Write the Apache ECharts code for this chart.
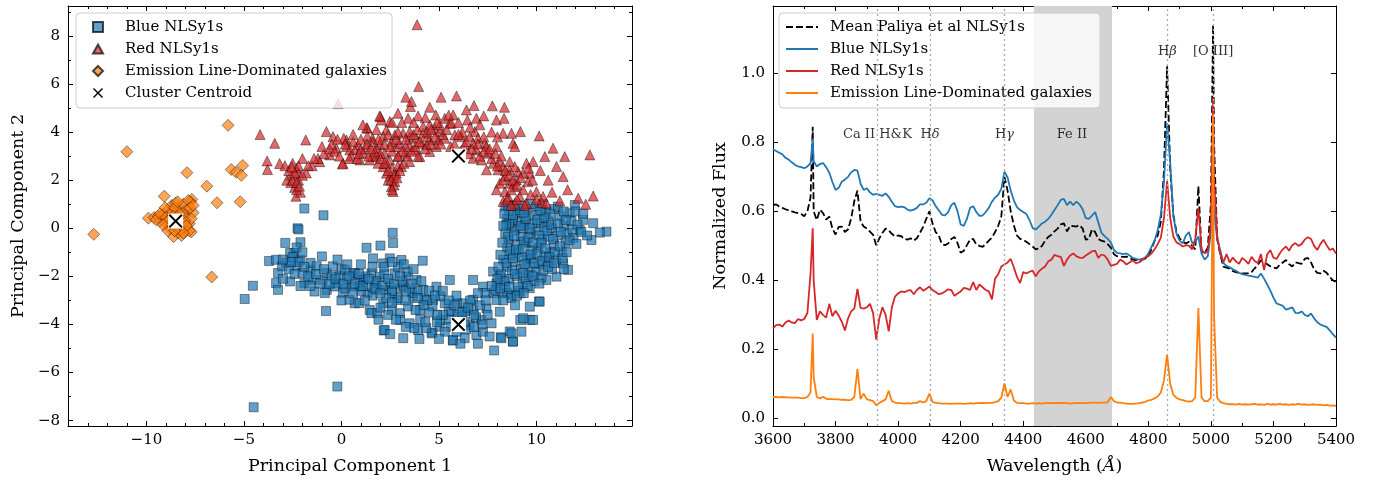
<!DOCTYPE html>
<html><head><meta charset="utf-8">
<script src="https://cdn.jsdelivr.net/npm/echarts@6/dist/echarts.min.js"></script>
<style>
html,body{margin:0;padding:0;background:#fff;}
#wrap{position:relative;width:1382px;height:484px;}
#left{position:absolute;left:0;top:0;width:691px;height:484px;}
#right{position:absolute;left:691px;top:0;width:691px;height:484px;}
</style>
</head><body><div id="wrap"><div id="left"></div><div id="right"></div></div>
<script>
// ---------------- LEFT PANEL DATA (PCA scatter) ----------------
const bluePts = [
[-4.5,-7.44],[-0.21,-6.58],[-4.96,-2.94],[-4.54,-2.39],[-3.71,-1.36],[-1.9,0.82],[-0.92,0.54],[-2.25,0.0],[-2.2,-0.05],[-2.88,-0.61],[-2.1,-0.58],[-0.79,-3.44],[2.63,-0.19],[2.65,-0.61],[1.29,-0.81],[2.0,-0.72],[4.17,-1.35],[-1.0,-1.17],[7.83,-5.08],[8.79,-4.71],[10.13,-3.04],[9.67,-3.81],[9.17,-3.81],[8.63,-4.29],[8.17,-4.53],[3.17,-4.57],[2.17,-4.25],[4.67,-4.33],[5.71,-4.67],
[3.08,-1.32],[0.0,-1.7],[-0.26,-2.29],[0.6,-1.87],[1.11,-2.15],[1.62,-1.25],[2.48,-1.25],[2.14,-1.46],[1.54,-1.87],[1.97,-2.01],[2.74,-1.87],[3.33,-2.01],[3.85,-2.15],[2.48,-2.29],[3.0,-2.49],[1.79,-2.56],[0.94,-2.43],[0.68,-3.12],[1.45,-3.4],[2.14,-3.12],[2.82,-2.98],[3.67,-2.84],[4.19,-2.56],[4.87,-2.43],[5.56,-2.15],[4.7,-2.98],[5.3,-3.12],[4.02,-3.4],[3.5,-3.95],[3.0,-3.53],[2.22,-4.23],[3.93,-4.23],[4.62,-4.37],[5.04,-4.09],[5.73,-4.64],[6.32,-4.57],[6.92,-4.44],[6.58,-4.02],[7.26,-4.3],[8.2,-4.57],[8.72,-4.37],[8.8,-4.71],[9.23,-4.3],[9.32,-3.74],[9.83,-3.81],[9.66,-3.26],[10.17,-3.05],[7.18,-3.81],[7.7,-3.95],[8.12,-3.47],[7.44,-3.33],[6.75,-3.4],[6.24,-3.12],[6.15,-3.67],[5.64,-3.47],[6.75,-2.15],[7.26,-2.43],[7.78,-2.7],[7.95,-2.29],[7.78,-1.8],[8.12,-2.01],[7.95,-2.98],[8.29,-2.7],
[13.59,-0.14],[12.91,0.21],[13.25,-0.18],[12.82,-0.49],[12.22,-0.07],[11.97,0.97],[11.71,0.62],[12.39,0.35],[11.62,-1.73],[11.37,-1.46],[11.03,-2.01],[10.51,-2.15],[9.66,-2.49],[8.72,-2.77],[9.15,-2.7],
[8.4,0.9],[8.6,0.7],[8.5,0.4],[8.7,0.1],[8.4,-0.2],[8.6,-0.5],[8.5,-0.8],[8.7,-1.1],[8.3,-1.3],[8.5,-1.6],[8.2,-1.9],[8.6,-2.1],[8.4,-2.4],[8.9,0.95],[9.0,0.6],[9.1,0.3],[8.9,-0.1],[9.2,-0.35],[9.0,-0.7],[9.1,-1.0],[8.9,-1.4],[9.2,-1.7],[9.0,-2.0],[9.3,-2.3],[9.5,0.8],[9.6,0.5],[9.4,0.15],[9.7,-0.2],[9.5,-0.6],[9.8,-0.9],[9.5,-1.3],[9.7,-1.6],[9.6,-1.95],[9.9,-2.2],[10.0,0.9],[10.1,0.55],[10.2,0.2],[10.0,-0.1],[10.3,-0.45],[10.1,-0.8],[10.4,-1.15],[10.2,-1.5],[10.0,-1.8],[10.5,0.7],[10.6,0.3],[10.8,0.0],[10.6,-0.35],[10.9,-0.7],[10.7,-1.0],[11.0,-1.3],[10.8,-1.7],[11.2,0.5],[11.4,0.1],[11.1,-0.3],[11.5,-0.6],[11.3,-1.0],[11.6,-0.2],[11.8,0.3],[11.9,-0.4],[8.8,0.35],[9.3,0.0],[9.8,0.2],[10.4,0.05],[9.25,-1.2],[9.75,-1.25],[10.55,-1.4],[8.75,-1.75],[9.45,-2.1],[10.25,-2.05],[8.35,0.6],[8.5,-2.7],[8.7,-2.9],[9.1,-2.6],[8.3,-3.0],[8.9,-3.2],[8.6,0.2],[12.6,-0.3],[11.4,-1.7],[10.9,0.8],[11.1,0.9],[12.0,0.7],[10.3,1.0],[9.7,1.0],[10.7,0.6],
[-3.35,-1.31],[-2.83,-1.44],[-3.25,-1.86],[-3.35,-2.28],[-2.63,-2.21],[-3.25,-2.56],[-2.42,-1.03],[-2.1,-1.31],[-2.31,-1.58],[-2.0,-1.86],[-1.58,-1.72],[-1.48,-2.14],[-1.9,-2.28],[-0.96,-2.14],[-0.75,-2.56],[-1.38,-2.63],[-0.85,-2.69],[-0.33,-2.42],[-0.13,-2.0],[0.08,-2.69],[0.5,-2.42],[0.4,-2.97],[0.92,-3.11],[0.92,-2.14],[1.33,-2.69],[1.54,-3.53],[1.85,-3.53],[2.58,-3.39],[2.9,-2.9],[3.42,-3.25],[4.04,-3.81],[4.35,-4.15],[3.73,-4.15],[3.0,-3.81],[5.08,-3.81],[5.5,-3.46],[6.33,-3.46],[6.75,-2.97],[7.38,-2.69],[7.9,-2.56],[-3.04,-1.58],[-2.63,-1.03],[-1.58,-1.44],[-1.27,-1.58],[-0.75,-1.86],[-0.44,-1.58],[0.19,-1.72],[0.71,-1.86],[1.23,-2.0],[1.75,-2.28],[2.27,-2.56],[2.58,-2.69],[3.21,-2.42],[3.63,-2.69],[4.25,-2.97],[4.67,-3.25],[5.08,-2.83],[5.92,-3.11],
[5.5,-3.8],[6.0,-3.6],[6.4,-4.2],[5.2,-3.6],[4.9,-3.9],[6.9,-3.7],[5.9,-4.3],[6.6,-3.0],[7.0,-2.7],[5.9,-2.8],[4.4,-3.0],[3.9,-2.6],
[0.3,-2.1],[0.9,-1.9],[1.3,-2.4],[1.8,-2.2],[2.2,-1.9],[2.6,-2.6],[3.1,-2.2],[3.5,-2.5],[2.3,-2.9],[1.6,-2.8],[0.2,-2.5],[-0.5,-2.0],[3.4,-1.8],[2.9,-1.6],[1.0,-2.6],[2.0,-3.3],
[8.45,0.15],[8.55,-0.35],[8.65,-0.95],[8.45,-1.45],[8.35,-2.2],[8.8,0.55],[8.85,-0.3],[8.95,-0.9],[8.8,-1.25],[8.9,-1.9],[9.05,-2.45],[9.15,0.75],[9.2,0.1],[9.35,-0.55],[9.3,-0.85],[9.4,-1.5],[9.3,-1.85],[9.55,-2.4],[9.45,0.4],[9.65,0.0],[9.6,-0.4],[9.85,-0.6],[9.7,-1.1],[9.9,-1.45],[9.8,-2.0],[10.05,0.35],[10.15,-0.3],[10.25,-0.6],[10.05,-1.05],[10.3,-1.35],[10.35,-1.75],[10.15,-2.3],[10.4,0.45],[10.55,-0.1],[10.45,-0.85],[10.65,-1.2],[10.6,-1.6],[10.75,0.15],[10.85,-0.45],[10.95,-1.0],[10.9,-1.45],[11.1,0.2],[11.25,-0.15],[11.2,-0.75],[11.35,-1.25],[11.5,0.35],[11.7,-0.5],[11.55,-1.0],[11.85,-0.05],[12.1,0.15],[12.3,-0.15],[12.4,0.6],[12.05,-0.65],[11.4,0.7],[10.2,0.75],[9.35,0.65],[8.55,0.95],[9.1,0.95],[8.3,0.1],[8.25,-0.6],[8.15,-1.1],[8.05,-1.6],[8.0,-2.1],[8.15,-2.5],[8.6,-2.45],[9.0,-2.8],[9.35,-2.7],
[-2.5,-1.2],[-2.2,-1.4],[-1.9,-1.6],[-2.7,-1.7],[-2.4,-1.9],[-1.7,-2.0],[-1.3,-1.9],[-1.1,-2.3],[-0.6,-2.3],[-0.3,-2.1],[0.1,-2.3],[0.4,-2.0],[0.7,-2.3],[1.1,-2.4],[1.4,-2.1],[1.7,-2.5],[2.1,-2.4],[2.4,-2.1],[2.7,-2.3],[3.0,-2.0],[3.3,-2.6],[3.6,-2.3],[3.9,-2.9],[4.1,-2.2],[4.5,-2.6],[4.8,-2.8],[5.2,-2.6],[5.5,-3.0],[5.8,-3.2],[6.2,-3.5],[6.5,-3.3],[6.8,-3.6],[7.1,-3.2],[7.4,-3.0],[7.7,-2.4],[7.5,-3.6],[7.2,-4.0],[6.8,-4.1],[6.3,-3.9],[5.6,-4.1],[5.3,-4.3],[4.9,-3.6],[4.5,-3.5],[4.2,-3.2],[3.8,-3.4],[3.3,-3.0],[2.6,-3.1],[2.0,-2.7],[1.2,-3.0],[2.4,-3.6],[2.8,-3.8],[3.3,-4.1],[1.6,-1.6],[2.2,-1.6],[2.6,-1.4],[3.2,-1.5],[3.7,-1.7],[1.0,-1.5],[0.3,-1.5],[-0.2,-1.3],[-2.3,-0.8],[-2.0,-1.0],[-2.6,-1.4],[-3.0,-2.1],[-3.0,-1.3],[-2.1,-2.4],[-1.6,-2.4],[-0.9,-1.7],[0.0,-3.0],[0.6,-2.7],[1.9,-3.8],[2.5,-4.4],[4.0,-4.6],[4.3,-3.9],[5.0,-4.6],[6.1,-4.8],[7.0,-4.8],[7.6,-4.5]
];
const redPts = [
[3.88,8.46],[3.96,5.89],[-0.17,5.18],[-4.17,3.9],[-3.42,3.53],[-3.81,2.8],[-3.79,2.44],[-3.17,2.69],[-1.83,3.67],[-2.33,1.33],[-0.77,4.02],[-1.11,2.77],[-0.6,3.05],[0.08,2.7],[0.26,3.67],
[3.3,5.45],[3.54,5.06],[3.59,5.27],[5.11,5.45],[5.9,5.5],[4.53,5.03],[2.9,4.78],[2.0,4.64],[2.05,4.5],[2.48,4.44],[3.42,4.57],[3.93,4.67],[4.84,4.71],[5.3,4.57],[5.73,4.71],[6.41,4.92],[6.8,5.1],[7.74,5.09],[8.36,5.03],[7.3,4.67],[7.95,4.5],[8.34,4.57],[5.56,4.37],[6.46,4.5],[6.92,4.57],[1.33,4.16],[2.3,4.09],[1.59,3.74],[0.12,3.74],[-0.43,3.81],[0.26,3.4],[0.85,3.47],[0.05,2.67],[1.97,3.47],[2.82,3.4],[3.5,3.81],[4.19,3.95],[4.79,4.16],[5.04,4.02],[5.81,3.88],[6.84,4.02],[8.29,3.95],[8.72,3.95],[9.18,4.02],[10.14,3.84],[6.32,3.47],[7.35,3.53],[7.95,3.4],[8.8,3.53],[8.89,3.4],[10.85,3.33],[11.45,2.98],[12.74,3.05],[10.43,2.98],[9.83,2.77],[9.49,2.7],[8.63,2.77],[7.78,2.7],[7.18,2.84],[6.75,2.91],[7.44,2.43],[8.03,2.43],[8.38,2.15],[9.06,2.36],[9.66,2.29],[9.57,1.94],[11.03,2.57],[11.37,2.15],[8.12,1.87],[7.95,1.6],[8.89,1.73],[9.32,1.6],[10.0,1.52],[10.34,1.32],[10.26,1.07],[10.51,1.04],[11.2,1.14],[12.14,1.25],[12.91,1.34],[12.53,1.0],[9.49,1.04],[8.89,1.04],[8.29,1.11],[8.55,1.32],[8.38,1.52],[9.15,1.32],
[2.65,1.53],[2.56,1.73],[2.74,1.94],[2.48,2.15],[2.31,2.29],[2.82,2.29],[2.14,2.56],[3.08,2.56],[1.88,2.7],[3.5,2.77],[1.62,2.98],[4.02,2.98],[1.11,3.12],[4.53,3.19],[0.68,3.26],[1.28,3.4],[1.79,3.33],[2.22,3.12],[2.48,2.84],[2.9,2.98],[3.25,3.12],[3.76,3.26],[2.99,3.53],[2.56,3.6],[3.5,3.47],[4.1,3.53],[4.53,3.67],[4.96,3.67],[5.3,3.74],[4.87,3.4],[4.36,3.47],[3.93,2.98],[1.45,2.84],[0.94,2.84],[0.43,3.26],[-0.26,3.33],[3.5,4.02],[3.16,3.95],[2.74,3.88],[2.14,3.81],[1.62,3.6],[3.85,3.74],[4.19,4.23],[4.53,4.3],[5.04,4.3],[5.64,4.37],[6.15,3.81],[6.58,3.81],[7.01,3.74],[7.44,3.4],[6.75,3.53],[6.92,3.26],[7.52,3.12],[8.12,2.77],[8.29,2.56],[8.63,2.43],[8.89,2.56],[9.32,2.29],[8.29,2.01],[8.63,1.87],[8.97,2.01],
[-1.2,2.9],[-0.9,3.1],[-0.6,3.3],[-0.35,3.2],[-1.5,2.6],[-2.0,2.9],[-2.3,2.5],[-2.6,2.2],[-2.2,2.0],[-2.4,1.7],[-2.1,1.5],[-2.8,2.0],[-2.5,2.7],[-1.8,2.3],[-2.9,2.6],[-2.2,2.3],[-2.6,1.9],[-2.3,1.6],[0.5,3.0],[1.0,3.3],[1.4,3.0],[0.8,2.9],[1.8,3.0],[1.96,4.67],[1.29,4.18],[1.33,3.83],
[2.6,2.5],[2.4,2.0],[2.7,2.2],[2.9,2.6],[2.3,2.7],[2.0,3.1],[2.6,3.2],[3.3,3.4],[2.8,3.7],[3.7,3.9],[4.4,3.8],[5.6,3.4],[6.1,3.2],[6.5,3.1],[7.1,3.0],[7.7,2.9],[6.2,4.0],[5.2,3.9],
[0.2,3.5],[0.6,3.6],[1.0,3.7],[1.3,3.5],[1.7,3.2],[2.0,2.9],[2.2,2.7],[2.4,2.4],[2.55,2.0],[2.7,1.8],[2.6,1.6],[2.85,2.1],[3.0,2.4],[3.2,2.7],[3.4,3.0],[3.6,3.2],[3.8,3.4],[4.0,3.6],[4.3,3.3],[4.6,3.5],[4.8,3.8],[5.1,3.5],[3.1,3.2],[2.5,3.4],[2.2,3.5],[1.9,3.7],[2.9,3.0],[1.5,3.3],[0.9,3.1],[0.4,2.9],[-0.1,3.0],[-0.5,3.5],[3.3,3.7],[2.9,4.0],[2.4,3.9],[1.8,4.1],[3.9,4.1],[4.4,4.0],[4.9,4.4],[5.4,4.1],[5.8,3.5],[6.0,3.9],[6.4,3.6],[6.7,3.3],[7.0,3.5],[7.3,3.2],[7.6,3.3],[7.3,3.8],[7.9,3.1],[8.2,3.0],[8.0,2.6],[8.4,2.4],[8.6,2.2],[8.8,2.0],[9.0,1.8],[8.7,1.6],[8.5,1.2],[9.2,2.1],[9.6,2.5],[9.8,2.0],[10.2,2.4],[10.6,2.0],[10.0,1.2],[9.7,1.4],[9.0,1.2],[8.7,0.95],[9.4,0.95],[10.8,1.5],[11.6,1.6],[-2.5,2.0],[-2.3,1.9],[-2.0,2.2],[-1.7,2.6],[-2.7,2.4],[-2.2,2.6],[-1.4,2.9],[-2.4,2.3],[-2.15,1.75],[-2.55,2.55],[-1.0,3.4],[-0.2,3.7],[0.6,3.9],[1.1,4.3],[2.6,4.4],[3.1,4.4],[3.7,4.4],[4.3,4.6],[4.6,4.1],[5.5,4.7],[6.0,4.4],[6.6,4.2],[7.1,4.3],[7.7,4.0],[8.0,3.8]
];
const eldPts = [
[-12.7,-0.25],[-11.0,3.18],[-7.92,2.31],[-5.81,4.28],[-6.9,1.75],[-9.08,1.33],[-6.38,1.06],[-5.19,1.1],[-5.65,2.44],[-5.06,2.61],[-5.4,2.33],[-5.13,2.2],[-7.67,1.2],[-7.75,1.1],[-6.65,-2.03],
[-9.9,0.42],[-9.6,0.45],[-9.4,0.5],[-9.3,0.3],[-9.1,0.6],[-9.0,0.2],[-8.9,0.75],[-8.8,0.4],[-8.7,0.95],[-8.6,0.1],[-8.5,1.05],[-8.5,0.6],[-8.4,-0.2],[-8.3,0.85],[-8.2,0.3],[-8.1,1.0],[-8.0,-0.1],[-8.0,0.55],[-7.9,0.8],[-7.8,0.2],[-7.7,-0.15],[-7.6,0.65],[-7.7,0.4],[-8.6,-0.35],[-8.8,0.0],[-9.2,0.55],[-8.35,0.05],[-8.05,0.3],[-7.85,1.15],[-8.7,0.7],[-9.5,0.35],[-8.9,-0.1],[-8.2,-0.3],[-7.8,-0.1],[-8.45,0.45],[-8.15,0.6],[-9.05,0.85],[-8.6,0.2],
[-9.3,0.6],[-9.0,0.45],[-8.75,0.2],[-8.55,0.85],[-8.3,0.6],[-8.25,-0.05],[-7.95,0.1],[-8.65,0.5],[-8.9,0.3],[-9.15,0.15],[-7.75,0.85],[-8.4,1.1],[-7.6,0.95],[-8.1,-0.2],[-8.55,-0.1]
];
const centroidPts = [[-8.5,0.3],[6.0,3.0],[6.0,-4.0]];
const scatterNames = ['Blue NLSy1s','Red NLSy1s','Emission Line-Dominated galaxies','Cluster Centroid'];

// ---------------- RIGHT PANEL DATA (spectra) ----------------
const wave = []; for (let w = 3600; w <= 5400; w += 10) wave.push(w);   // 10 A sampling grid
const peakWave = [3727, 5007];                                           // extra samples on narrow lines
const fluxMean = [
0.618,0.620,0.614,0.610,0.606,0.603,0.600,0.597,0.595,0.592,
0.586,0.600,0.640,0.600,0.575,0.605,0.595,0.576,0.585,0.550,
0.533,0.555,0.556,0.540,0.548,0.580,0.630,0.660,0.570,0.556,
0.550,0.541,0.532,0.502,0.522,0.538,0.550,0.545,0.535,0.527,
0.530,0.528,0.520,0.518,0.522,0.515,0.522,0.538,0.555,0.578,
0.600,0.565,0.540,0.530,0.505,0.502,0.507,0.520,0.526,0.508,
0.480,0.486,0.502,0.518,0.520,0.504,0.500,0.497,0.505,0.515,
0.524,0.540,0.558,0.585,0.700,0.660,0.600,0.560,0.530,0.520,
0.517,0.512,0.505,0.498,0.490,0.492,0.500,0.515,0.526,0.532,
0.542,0.550,0.562,0.565,0.542,0.558,0.557,0.556,0.560,0.550,
0.518,0.520,0.548,0.540,0.520,0.515,0.512,0.505,0.495,0.476,
0.470,0.469,0.468,0.469,0.465,0.460,0.459,0.458,0.460,0.463,
0.470,0.490,0.515,0.530,0.570,0.720,1.020,0.720,0.590,0.540,
0.522,0.512,0.507,0.512,0.500,0.490,0.673,0.485,0.478,0.495,
0.620,0.800,0.520,0.475,0.440,0.437,0.434,0.427,0.424,0.421,
0.420,0.420,0.421,0.424,0.435,0.445,0.458,0.452,0.447,0.441,
0.437,0.435,0.445,0.452,0.459,0.447,0.440,0.452,0.450,0.448,
0.462,0.465,0.452,0.432,0.422,0.420,0.428,0.422,0.410,0.400,
0.396];
const peakMean = [0.845, 1.14];
const fluxBlue = [
0.780,0.775,0.770,0.765,0.755,0.750,0.742,0.735,0.730,0.728,
0.725,0.730,0.740,0.745,0.730,0.737,0.740,0.728,0.712,0.685,
0.662,0.668,0.686,0.692,0.700,0.713,0.720,0.718,0.680,0.662,
0.667,0.655,0.648,0.651,0.648,0.645,0.652,0.642,0.628,0.615,
0.612,0.614,0.612,0.605,0.602,0.605,0.610,0.620,0.620,0.625,
0.638,0.632,0.615,0.603,0.590,0.588,0.598,0.618,0.625,0.600,
0.562,0.558,0.578,0.610,0.615,0.598,0.587,0.588,0.598,0.610,
0.628,0.640,0.648,0.665,0.715,0.698,0.660,0.632,0.612,0.604,
0.598,0.592,0.575,0.552,0.547,0.556,0.565,0.570,0.578,0.590,
0.604,0.618,0.633,0.636,0.618,0.628,0.618,0.628,0.620,0.606,
0.580,0.578,0.588,0.598,0.568,0.538,0.528,0.520,0.510,0.488,
0.480,0.478,0.476,0.478,0.472,0.465,0.462,0.460,0.462,0.466,
0.478,0.497,0.515,0.545,0.590,0.685,0.855,0.740,0.585,0.535,
0.515,0.507,0.530,0.540,0.508,0.512,0.527,0.478,0.460,0.470,
0.540,0.600,0.520,0.487,0.450,0.442,0.438,0.432,0.428,0.422,
0.418,0.416,0.414,0.412,0.410,0.408,0.420,0.405,0.388,0.370,
0.350,0.333,0.330,0.326,0.315,0.318,0.322,0.306,0.305,0.310,
0.300,0.296,0.304,0.290,0.279,0.272,0.268,0.265,0.255,0.244,
0.234];
const peakBlue = [0.81, 0.66];
const fluxRed = [
0.261,0.270,0.272,0.266,0.278,0.284,0.278,0.276,0.288,0.284,
0.288,0.306,0.420,0.400,0.285,0.310,0.300,0.292,0.332,0.296,
0.312,0.298,0.280,0.255,0.290,0.310,0.318,0.375,0.320,0.318,
0.322,0.332,0.305,0.228,0.290,0.322,0.300,0.252,0.322,0.353,
0.362,0.368,0.366,0.370,0.372,0.360,0.372,0.380,0.370,0.376,
0.382,0.372,0.366,0.360,0.362,0.368,0.374,0.372,0.355,0.362,
0.368,0.378,0.376,0.372,0.395,0.372,0.388,0.380,0.372,0.368,
0.345,0.405,0.418,0.440,0.446,0.452,0.462,0.438,0.410,0.392,
0.424,0.420,0.425,0.428,0.412,0.426,0.434,0.440,0.455,0.460,
0.474,0.470,0.468,0.442,0.460,0.472,0.478,0.470,0.466,0.465,
0.472,0.478,0.484,0.486,0.465,0.475,0.472,0.460,0.442,0.445,
0.448,0.460,0.455,0.446,0.452,0.458,0.450,0.452,0.458,0.466,
0.470,0.478,0.490,0.505,0.524,0.580,0.688,0.580,0.527,0.510,
0.505,0.498,0.502,0.500,0.490,0.520,0.610,0.490,0.478,0.485,
0.560,0.700,0.530,0.476,0.452,0.476,0.452,0.466,0.455,0.448,
0.465,0.458,0.448,0.468,0.456,0.450,0.476,0.430,0.475,0.488,
0.466,0.462,0.478,0.490,0.498,0.486,0.502,0.508,0.500,0.505,
0.518,0.525,0.520,0.500,0.488,0.505,0.518,0.502,0.488,0.492,
0.478];
const peakRed = [0.551, 0.93];
const fluxELD = [
0.062,0.062,0.061,0.062,0.061,0.061,0.060,0.060,0.060,0.059,
0.059,0.062,0.075,0.120,0.062,0.058,0.063,0.057,0.056,0.056,
0.055,0.055,0.054,0.054,0.053,0.054,0.062,0.143,0.056,0.072,
0.055,0.053,0.050,0.038,0.045,0.050,0.055,0.080,0.050,0.046,
0.044,0.044,0.043,0.044,0.043,0.045,0.045,0.050,0.046,0.050,
0.072,0.048,0.045,0.044,0.043,0.043,0.043,0.042,0.043,0.043,
0.043,0.042,0.043,0.044,0.043,0.044,0.044,0.045,0.044,0.045,
0.045,0.047,0.050,0.060,0.101,0.062,0.084,0.052,0.045,0.044,
0.044,0.043,0.043,0.044,0.043,0.044,0.043,0.044,0.045,0.044,
0.044,0.045,0.044,0.045,0.044,0.043,0.044,0.044,0.045,0.044,
0.044,0.045,0.046,0.046,0.045,0.046,0.046,0.047,0.062,0.050,
0.046,0.046,0.044,0.043,0.042,0.042,0.043,0.044,0.046,0.048,
0.052,0.054,0.058,0.064,0.075,0.110,0.184,0.100,0.068,0.060,
0.055,0.053,0.050,0.049,0.050,0.060,0.320,0.060,0.050,0.050,
0.060,0.300,0.060,0.048,0.044,0.042,0.041,0.041,0.040,0.042,
0.040,0.041,0.040,0.041,0.042,0.040,0.041,0.039,0.042,0.040,
0.041,0.040,0.042,0.040,0.041,0.039,0.041,0.040,0.042,0.040,
0.041,0.039,0.040,0.041,0.039,0.040,0.038,0.039,0.037,0.038,
0.036];
const peakELD = [0.246, 0.88];
const specNames = ['Mean Paliya et al NLSy1s','Blue NLSy1s','Red NLSy1s','Emission Line-Dominated galaxies'];
const lineMarks = [3934, 4102, 4340, 4861, 5007];
const feBand = [4434, 4684];
const annText = ['Ca II H&K', 'H{g|δ}', 'H{g|γ}', 'Fe II', 'H{g|β}', '[O III]'];
const annX = [3934, 4102, 4340, 4556, 4861, 5007];
const annY = [0.823, 0.823, 0.823, 0.823, 1.062, 1.062];

// ---------------- helpers ----------------
const FONT = 'DejaVu Serif';
const minus = v => (v < 0 ? '\u2212' + Math.abs(v) : String(v));
const isMult = (v, s) => Math.abs(v / s - Math.round(v / s)) < 1e-6;
function build(flux, peaks) {
  const pts = wave.map((w, i) => [w, flux[i]]);
  peakWave.forEach((w, j) => pts.push([w, peaks[j]]));
  pts.sort((a, b) => a[0] - b[0]);
  return pts;
}
function mkAxis(o) {
  return Object.assign({
    type: 'value',
    axisLine: {show: true, onZero: false, lineStyle: {color: '#000', width: 1}},
    axisTick: {show: true, inside: true, length: 5, lineStyle: {color: '#000', width: 1}},
    splitLine: {show: false},
    minorSplitLine: {show: false},
    axisLabel: {show: false}
  }, o);
}
const labelStyle = {fontFamily: FONT, fontSize: 15, color: '#000'};
const nameStyle = {fontFamily: FONT, fontSize: 17.5, color: '#000'};
const ICON_RECT = 'path://M0,0L10,0L10,10L0,10Z';
const ICON_TRI = 'path://M5,0L10,9L0,9Z';
const ICON_DIA = 'path://M5,0L10,5L5,10L0,5Z';
const ICON_X = 'path://M2,0L10,8L18,0L20,2L12,10L20,18L18,20L10,12L2,20L0,18L8,10L0,2Z';

// ---------------- LEFT CHART ----------------
const left = echarts.init(document.getElementById('left'), null, {renderer: 'canvas'});
const lx = {min: -14.02, max: 14.9, splitNumber: 5, minorTick: {show: true, splitNumber: 5, length: 3, lineStyle: {color: '#000'}}};
const ly = {min: -8.22, max: 9.24, splitNumber: 8, minorTick: {show: true, splitNumber: 2, length: 3, lineStyle: {color: '#000'}}};
left.setOption({
  animation: false,
  grid: {left: 68, right: 59, top: 6, bottom: 58, outerBoundsMode: 'none'},
  xAxis: [
    mkAxis(Object.assign({}, lx, {position: 'bottom',
      axisLabel: Object.assign({show: true, margin: 7, formatter: v => isMult(v, 5) ? minus(Math.round(v)) : ''}, labelStyle),
      name: 'Principal Component 1', nameLocation: 'middle', nameGap: 31, nameTextStyle: nameStyle})),
    mkAxis(Object.assign({}, lx, {position: 'top'}))
  ],
  yAxis: [
    mkAxis(Object.assign({}, ly, {position: 'left',
      axisLabel: Object.assign({show: true, margin: 8, formatter: v => isMult(v, 2) ? minus(Math.round(v)) : ''}, labelStyle),
      name: 'Principal Component 2', nameLocation: 'middle', nameGap: 40, nameRotate: 90, nameTextStyle: nameStyle})),
    mkAxis(Object.assign({}, ly, {position: 'right'}))
  ],
  legend: {
    data: [
      {name: scatterNames[0], icon: ICON_RECT},
      {name: scatterNames[1], icon: ICON_TRI},
      {name: scatterNames[2], icon: ICON_DIA},
      {name: scatterNames[3], icon: ICON_X}
    ],
    orient: 'vertical', left: 76, top: 13,
    padding: [6, 5, 7, 16], itemWidth: 10, itemHeight: 10, itemGap: 6,
    textStyle: {fontFamily: FONT, fontSize: 15, color: '#000', lineHeight: 16, padding: [0, 0, 0, 17]},
    backgroundColor: 'rgba(255,255,255,0.8)', borderColor: '#cccccc', borderWidth: 1, borderRadius: 4,
    selectedMode: false
  },
  series: [
    {name: scatterNames[0], type: 'scatter', data: bluePts, symbol: 'rect', symbolSize: 9,
     itemStyle: {color: '#1f77b4', opacity: 0.7, borderColor: '#000', borderWidth: 0.6}},
    {name: scatterNames[1], type: 'scatter', data: redPts, symbol: 'triangle', symbolSize: 10,
     itemStyle: {color: '#d62728', opacity: 0.7, borderColor: '#000', borderWidth: 0.6}},
    {name: scatterNames[2], type: 'scatter', data: eldPts, symbol: 'diamond', symbolSize: 12,
     itemStyle: {color: '#ff7f0e', opacity: 0.7, borderColor: '#000', borderWidth: 0.6}},
    {name: '_bg', type: 'scatter', data: centroidPts, symbol: 'rect', symbolSize: 15, z: 5,
     itemStyle: {color: '#ffffff', opacity: 1}},
    {name: scatterNames[3], type: 'scatter', data: centroidPts, z: 6,
     symbol: ICON_X, symbolSize: 14,
     itemStyle: {color: '#000', opacity: 1}}
  ]
});

// ---------------- RIGHT CHART ----------------
const right = echarts.init(document.getElementById('right'), null, {renderer: 'canvas'});
const rx = {min: 3600, max: 5400, interval: 200, minorTick: {show: true, splitNumber: 2, length: 3, lineStyle: {color: '#000'}}};
const ry = {min: -0.022, max: 1.195, splitNumber: 5};
const lineSeries = (name, data, color, dashed, z) => ({
  name, type: 'line', data, showSymbol: false, symbol: 'none', z,
  lineStyle: {color, width: 1.8, type: dashed ? [7, 3] : 'solid'},
  itemStyle: {color}
});
right.setOption({
  animation: false,
  grid: {left: 82, right: 46, top: 6, bottom: 58, outerBoundsMode: 'none'},
  xAxis: [
    mkAxis(Object.assign({}, rx, {position: 'bottom',
      axisLabel: Object.assign({show: true, margin: 7, formatter: v => String(v)}, labelStyle),
      name: 'Wavelength ({i|Å})', nameLocation: 'middle', nameGap: 31,
      nameTextStyle: Object.assign({rich: {i: {fontFamily: FONT, fontSize: 17.5, fontStyle: 'italic', color: '#000'}}}, nameStyle)})),
    mkAxis(Object.assign({}, rx, {position: 'top'}))
  ],
  yAxis: [
    mkAxis(Object.assign({}, ry, {position: 'left',
      axisLabel: Object.assign({show: true, margin: 8, formatter: v => isMult(v, 0.2) ? (Math.round(v * 10) / 10).toFixed(1) : ''}, labelStyle),
      name: 'Normalized Flux', nameLocation: 'middle', nameGap: 44, nameRotate: 90, nameTextStyle: nameStyle})),
    mkAxis(Object.assign({}, ry, {position: 'right'}))
  ],
  legend: {
    data: specNames, orient: 'vertical', left: 88, top: 13,
    padding: [6, 8, 7, 6], itemWidth: 32, itemHeight: 12, itemGap: 6,
    itemStyle: {opacity: 0},
    textStyle: {fontFamily: FONT, fontSize: 15, color: '#000', lineHeight: 16, padding: [0, 0, 0, 7]},
    backgroundColor: 'rgba(255,255,255,0.8)', borderColor: '#cccccc', borderWidth: 1, borderRadius: 4,
    selectedMode: false
  },
  series: [
    {name: '_marks', type: 'line', data: [], z: 1, silent: true,
     markArea: {silent: true, itemStyle: {color: '#d3d3d3'}, data: [[{xAxis: feBand[0]}, {xAxis: feBand[1]}]]},
     markLine: {silent: true, symbol: ['none', 'none'], label: {show: false},
       lineStyle: {color: '#aaaaaa', type: [2, 3], width: 1.3},
       data: lineMarks.map(w => ({xAxis: w}))}},
    lineSeries(specNames[0], build(fluxMean, peakMean), '#000000', true, 2),
    lineSeries(specNames[1], build(fluxBlue, peakBlue), '#1f77b4', false, 3),
    lineSeries(specNames[2], build(fluxRed, peakRed), '#d62728', false, 4),
    lineSeries(specNames[3], build(fluxELD, peakELD), '#ff7f0e', false, 5),
    {name: '_ann', type: 'scatter', z: 6, silent: true, symbol: 'circle', symbolSize: 1,
     itemStyle: {color: 'rgba(0,0,0,0)'},
     data: annText.map((t, i) => ({name: t, value: [annX[i], annY[i]]})),
     label: {show: true, position: 'inside', formatter: p => p.name,
       fontFamily: FONT, fontSize: 13, color: '#000',
       rich: {g: {fontFamily: FONT, fontSize: 13, fontStyle: 'italic', color: '#000'}}}}
  ]
});
</script></body></html>
